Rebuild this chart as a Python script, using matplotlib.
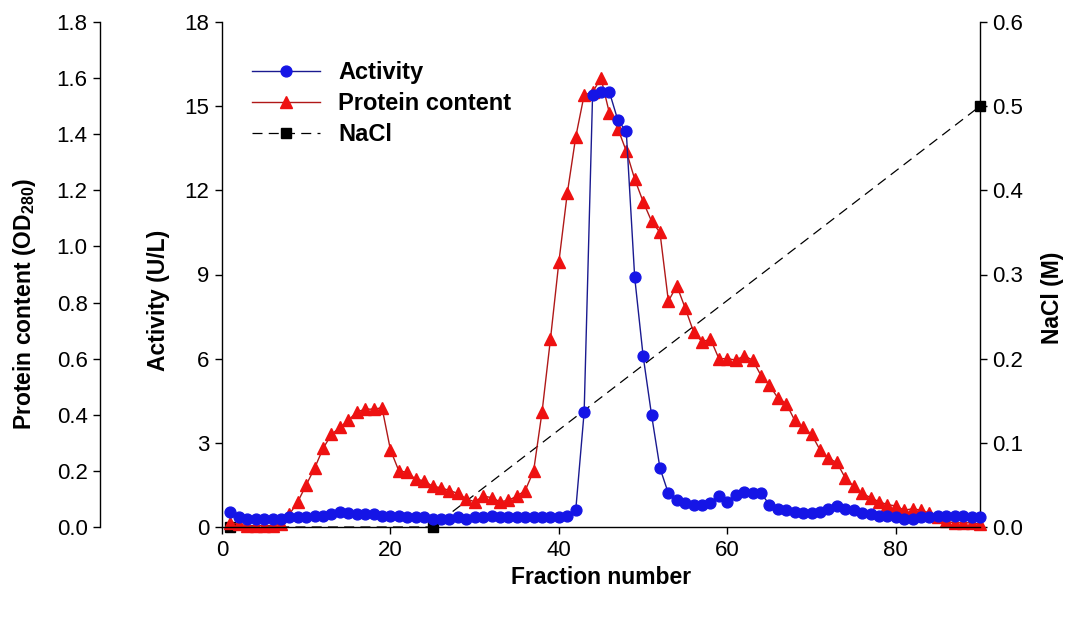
import matplotlib
matplotlib.use("Agg")
import matplotlib.pyplot as plt
import numpy as np

plt.rcParams['font.family'] = ['Liberation Sans', 'DejaVu Sans']
plt.rcParams['mathtext.fontset'] = 'custom'
plt.rcParams['mathtext.rm'] = 'Liberation Sans:bold'
plt.rcParams['mathtext.bf'] = 'Liberation Sans:bold'
plt.rcParams['mathtext.default'] = 'bf'

# Fraction numbers
fractions = list(range(1, 91))

# Enzyme activity (U/L) per fraction
activity = [
    0.55, 0.35, 0.30, 0.30, 0.30, 0.30, 0.30, 0.35, 0.35, 0.35,
    0.40, 0.40, 0.45, 0.55, 0.50, 0.45, 0.45, 0.45, 0.40, 0.40,
    0.40, 0.35, 0.35, 0.35, 0.30, 0.30, 0.30, 0.35, 0.30, 0.35,
    0.35, 0.40, 0.35, 0.35, 0.35, 0.35, 0.35, 0.35, 0.35, 0.35,
    0.40, 0.60, 4.10, 15.4, 15.5, 15.5, 14.5, 14.1, 8.90, 6.10,
    4.00, 2.10, 1.20, 0.95, 0.85, 0.80, 0.80, 0.85, 1.10, 0.90,
    1.15, 1.25, 1.20, 1.20, 0.80, 0.65, 0.60, 0.55, 0.50, 0.50,
    0.55, 0.65, 0.75, 0.65, 0.60, 0.50, 0.45, 0.40, 0.40, 0.35,
    0.30, 0.30, 0.35, 0.35, 0.40, 0.40, 0.40, 0.40, 0.35, 0.35,
]

# Protein content (OD280) per fraction
protein = [
    0.015, 0.010, 0.005, 0.005, 0.005, 0.005, 0.010, 0.045, 0.090, 0.150,
    0.210, 0.280, 0.330, 0.355, 0.380, 0.410, 0.420, 0.420, 0.425, 0.275,
    0.200, 0.195, 0.170, 0.165, 0.145, 0.140, 0.130, 0.120, 0.100, 0.090,
    0.110, 0.105, 0.090, 0.095, 0.110, 0.130, 0.200, 0.410, 0.670, 0.945,
    1.190, 1.390, 1.540, 1.550, 1.600, 1.475, 1.420, 1.340, 1.240, 1.160,
    1.090, 1.050, 0.805, 0.860, 0.780, 0.695, 0.660, 0.670, 0.600, 0.600,
    0.595, 0.610, 0.595, 0.540, 0.505, 0.460, 0.440, 0.380, 0.355, 0.330,
    0.275, 0.245, 0.230, 0.175, 0.145, 0.120, 0.105, 0.090, 0.080, 0.075,
    0.060, 0.065, 0.060, 0.050, 0.035, 0.020, 0.015, 0.015, 0.015, 0.010,
]

# NaCl gradient (M)
nacl_fractions = [1, 25, 90]
nacl = [0.0, 0.0, 0.5]

x_ticks = [0, 20, 40, 60, 80]
act_ticks = [0, 3, 6, 9, 12, 15, 18]
prot_ticks = [0.0, 0.2, 0.4, 0.6, 0.8, 1.0, 1.2, 1.4, 1.6, 1.8]
nacl_ticks = [0.0, 0.1, 0.2, 0.3, 0.4, 0.5, 0.6]

W, H = 1073, 620
fig = plt.figure(figsize=(W / 100, H / 100), dpi=100)

left, right, bottom, top = 222, 980, 527, 22
prot_spine_x = 100
rect = [left / W, 1 - bottom / H, (right - left) / W, (bottom - top) / H]

ax_act = fig.add_axes(rect)
ax_prot = ax_act.twinx()
ax_nacl = ax_act.twinx()

tick_fs = 16
label_fs = 16.5
tick_kw = dict(direction='out', length=5, width=1, labelsize=tick_fs, colors='black', pad=4)

# Activity axis (main left)
ax_act.set_xlim(0, 90)
ax_act.set_ylim(0, 18)
ax_act.set_xticks(x_ticks)
ax_act.set_yticks(act_ticks)
ax_act.tick_params(axis='both', **tick_kw)
ax_act.tick_params(axis='x', pad=4)
for s in ['top', 'right']:
    ax_act.spines[s].set_visible(False)

# Protein axis on the far left
ax_prot.set_ylim(0, 1.8)
ax_prot.yaxis.set_ticks_position('left')
ax_prot.yaxis.set_label_position('left')
ax_prot.spines['left'].set_position(('axes', -(left - prot_spine_x) / (right - left)))
ax_prot.spines['left'].set_visible(True)
for s in ['top', 'right', 'bottom']:
    ax_prot.spines[s].set_visible(False)
ax_prot.set_yticks(prot_ticks)
ax_prot.set_yticklabels([f"{v:.1f}" for v in prot_ticks])
ax_prot.tick_params(axis='y', **tick_kw)

# NaCl axis on the right
ax_nacl.set_ylim(0, 0.6)
ax_nacl.set_yticks(nacl_ticks)
ax_nacl.set_yticklabels([f"{v:.1f}" for v in nacl_ticks])
ax_nacl.tick_params(axis='y', **tick_kw)
for s in ['top', 'left', 'bottom']:
    ax_nacl.spines[s].set_visible(False)

for a in (ax_act, ax_prot, ax_nacl):
    for s in a.spines.values():
        s.set_linewidth(1.0)

# Draw order: NaCl below, protein in the middle, activity on top
ax_nacl.set_zorder(1)
ax_prot.set_zorder(2)
ax_act.set_zorder(3)
ax_act.patch.set_visible(False)
ax_prot.patch.set_visible(False)

h_nacl, = ax_nacl.plot(nacl_fractions, nacl, color='black', lw=0.9,
                       dashes=(8, 5), marker='s', markersize=7.5,
                       markerfacecolor='black', markeredgecolor='black',
                       clip_on=False, label='NaCl')
h_prot, = ax_prot.plot(fractions, protein, color='#b01818', lw=1.0,
                       marker='^', markersize=8, markerfacecolor='#ee1111',
                       markeredgecolor='#ee1111', clip_on=False,
                       label='Protein content')
h_act, = ax_act.plot(fractions, activity, color='#1a1a90', lw=1.0,
                     marker='o', markersize=7.8, markerfacecolor='#1515e6',
                     markeredgecolor='#1515e6', clip_on=False,
                     label='Activity')

leg = ax_act.legend(handles=[h_act, h_prot, h_nacl], loc='upper left',
                    bbox_to_anchor=((252 - left) / (right - left), 1 - (61 - top) / (bottom - top)),
                    frameon=False, fontsize=17, handlelength=2.9, handletextpad=0.75,
                    labelspacing=0.34, borderaxespad=0, borderpad=0)
for t in leg.get_texts():
    t.set_fontweight('bold')

# Axis titles
fig.text(25 / W, 1 - 304 / H, 'Protein content (OD$_{280}$)', rotation=90,
         ha='center', va='center', fontsize=label_fs, fontweight='bold')
fig.text(159 / W, 1 - 300 / H, 'Activity (U/L)', rotation=90,
         ha='center', va='center', fontsize=label_fs, fontweight='bold')
fig.text(1052 / W, 1 - 298 / H, 'NaCl (M)', rotation=90,
         ha='center', va='center', fontsize=label_fs, fontweight='bold')
fig.text(601 / W, 1 - 578 / H, 'Fraction number',
         ha='center', va='center', fontsize=label_fs, fontweight='bold')

fig.savefig('out.png', dpi=100, facecolor='white')
